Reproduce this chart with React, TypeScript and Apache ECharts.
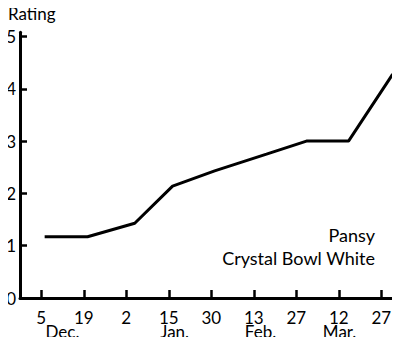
import React, { useEffect, useRef } from "react";
import * as echarts from "echarts";

// x positions are in tick-index units (0 = "5 Dec.", 8 = "27 Mar.")
const dayLabels = ["5", "19", "2", "15", "30", "13", "27", "12", "27"];
const monthLabels = ["Dec.", "Jan.", "Feb.", "Mar."];
const monthPositions = [0.5, 3.14, 5.16, 7.02];
const pointX = [0.08, 1.09, 2.2, 3.09, 4.08, 5.3, 6.24, 7.23, 8.27];
const ratings = [1.17, 1.17, 1.43, 2.14, 2.43, 2.75, 3.0, 3.0, 4.28];
const seriesName = ["Pansy", "Crystal Bowl White"];

const FONT = "Lato";

export default function App() {
  const ref = useRef<HTMLDivElement>(null);
  useEffect(() => {
    if (!ref.current) return;
    const chart = echarts.init(ref.current, undefined, { renderer: "svg" });
    const tickIdx = dayLabels.map((_, i) => i);
    chart.setOption({
      animation: false,
      backgroundColor: "#fff",
      textStyle: { fontFamily: FONT, color: "#000" },
      grid: {
        left: 20,
        top: 32.3,
        width: 382.5,
        height: 265.7,
        containLabel: false,
        outerBoundsMode: "none",
      },
      xAxis: [
        {
          type: "value",
          min: -0.5,
          max: 8.5,
          axisLine: { show: true, onZero: false, lineStyle: { color: "#000", width: 3 } },
          axisTick: {
            show: true,
            inside: true,
            length: 8,
            customValues: tickIdx,
            lineStyle: { color: "#000", width: 2.5 },
          },
          axisLabel: {
            customValues: tickIdx,
            hideOverlap: false,
            formatter: (v: number) => dayLabels[Math.round(v)] ?? "",
            fontSize: 17,
            color: "#000",
            fontFamily: FONT,
            margin: 11,
          },
          splitLine: { show: false },
        },
        {
          type: "value",
          min: -0.5,
          max: 8.5,
          position: "bottom",
          offset: 16,
          axisLine: { show: false, onZero: false },
          axisTick: { show: false },
          axisLabel: {
            customValues: monthPositions,
            hideOverlap: false,
            formatter: (v: number) => {
              const i = monthPositions.findIndex((p) => Math.abs(p - v) < 1e-6);
              return i >= 0 ? monthLabels[i] : "";
            },
            fontSize: 17,
            color: "#000",
            fontFamily: FONT,
            margin: 9,
          },
          splitLine: { show: false },
        },
      ],
      yAxis: {
        type: "value",
        min: 0,
        max: 5.08,
        interval: 1,
        name: "Rating",
        nameLocation: "end",
        nameGap: 10,
        nameTextStyle: {
          fontSize: 17,
          color: "#000",
          fontFamily: FONT,
          align: "left",
          padding: [0, 0, 0, -12],
        },
        axisLine: { show: true, onZero: false, lineStyle: { color: "#000", width: 3 } },
        axisTick: {
          show: true,
          inside: true,
          length: 7,
          lineStyle: { color: "#000", width: 2.5 },
        },
        axisLabel: {
          fontSize: 17,
          color: "#000",
          fontFamily: FONT,
          margin: 4,
          hideOverlap: false,
          showMaxLabel: false,
          formatter: (v: number) => (Number.isInteger(v) ? String(v) : ""),
        },
        splitLine: { show: false },
      },
      graphic: [
        {
          type: "text",
          right: 25,
          top: 226,
          style: {
            text: seriesName[0],
            fontSize: 18,
            fontFamily: FONT,
            fill: "#000",
            textAlign: "right",
          },
        },
        {
          type: "text",
          right: 25,
          top: 249,
          style: {
            text: seriesName[1],
            fontSize: 18,
            fontFamily: FONT,
            fill: "#000",
            textAlign: "right",
          },
        },
      ],
      series: [
        {
          type: "line",
          data: pointX.map((x, i) => [x, ratings[i]]),
          symbol: "none",
          lineStyle: { color: "#000", width: 3 },
        },
      ],
    });
    return () => chart.dispose();
  }, []);
  return <div ref={ref} style={{ width: 400, height: 345, margin: -8 }} />;
}
